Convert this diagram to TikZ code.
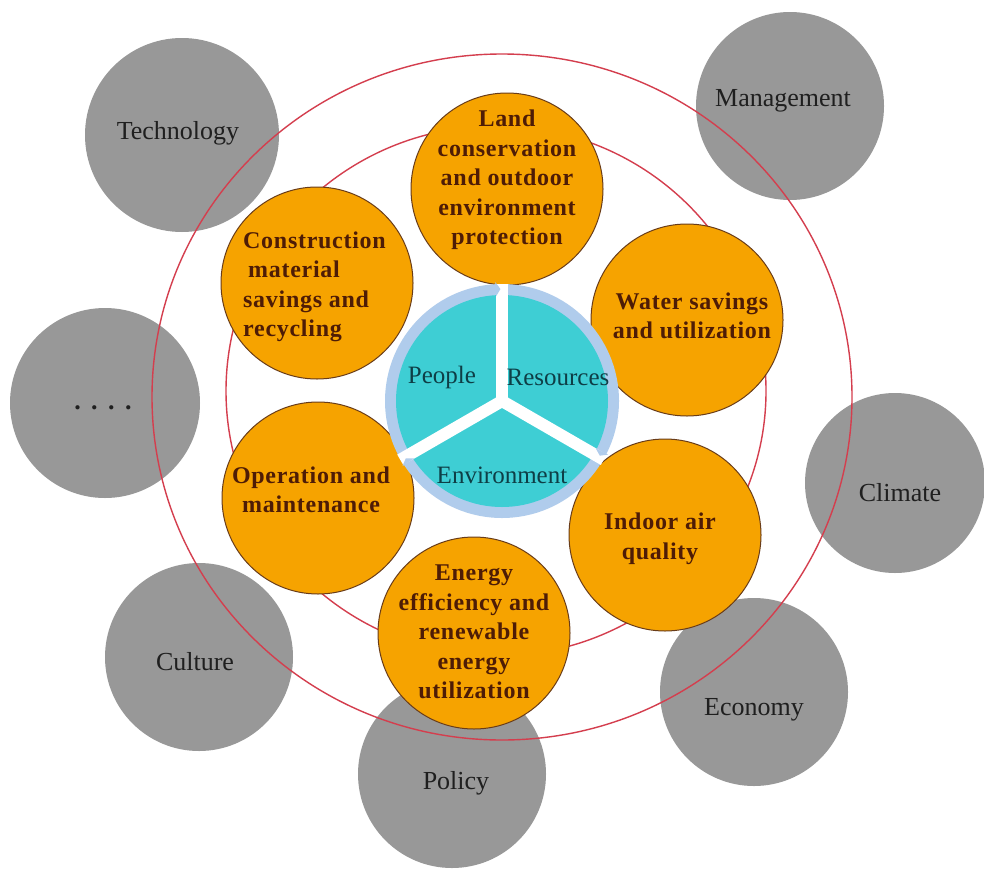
\documentclass[tikz,border=0pt]{standalone}
\usepackage{fontspec}
\setmainfont{Liberation Serif}
\newfontfamily\orfont[LetterSpace=3]{Liberation Serif}
\definecolor{greyc}{RGB}{152,152,152}
\definecolor{orangec}{RGB}{246,163,0}
\definecolor{orangeedge}{RGB}{105,60,25}
\definecolor{redc}{RGB}{212,62,78}
\definecolor{tealc}{RGB}{62,206,212}
\definecolor{ringc}{RGB}{176,204,236}
\definecolor{tealtext}{RGB}{14,62,70}
\definecolor{browntext}{RGB}{78,28,6}
\begin{document}
\begin{tikzpicture}[x=1pt,y=-1pt,
  greyball/.style={circle, fill=greyc, inner sep=0pt, minimum size=#1},
  greyball/.default=188pt,
  greytext/.style={inner sep=0pt, text=black!88, font=\fontsize{26}{30}\selectfont},
  orangeball/.style={circle, fill=orangec, draw=orangeedge, line width=1pt, inner sep=0pt, minimum size=192pt},
  orangetext/.style={inner sep=0pt, text=browntext, align=center, font=\orfont\bfseries\fontsize{24}{29.5}\selectfont},
  redring/.style={draw=redc, line width=1.4pt},
  centertext/.style={inner sep=0pt, text=tealtext, font=\fontsize{25}{30}\selectfont},
  gapline/.style={draw=white, line width=12pt},
  tipfill/.style={fill=ringc}
]
\useasboundingbox (0,0) rectangle (984,870);
\fill[white] (0,0) rectangle (984,870);

% grey outer factors
\node[greyball=194pt] (tech) at (182,135) {};
\node[greyball] (mgmt) at (790,106) {};
\node[greyball=190pt] (dots) at (105,403) {};
\node[greyball=180pt] (clim) at (895,483) {};
\node[greyball] (cult) at (199,657) {};
\node[greyball] (econ) at (754,692) {};
\node[greyball] (poli) at (452,774) {};
\node[greytext] (techT) at (178,133) {Technology};
\node[greytext] (mgmtT) at (783,101) {Management};
\node[greytext, font=\bfseries\fontsize{26}{30}\selectfont, anchor=base] (dotsT) at (103,409) {.\hspace{10.5pt}.\hspace{10.5pt}.\hspace{10.5pt}.};
\node[greytext] (climT) at (900,493) {Climate};
\node[greytext] (cultT) at (195,662) {Culture};
\node[greytext] (econT) at (754,710) {Economy};
\node[greytext] (poliT) at (456,783) {Policy};

% red rings
\draw[redring] (502,397) ellipse [x radius=350pt, y radius=343pt];
\draw[redring] (496,391) ellipse [x radius=270pt, y radius=265pt];

% orange indicators
\node[orangeball] (land) at (507,189) {};
\node[orangeball] (cons) at (317,283) {};
\node[orangeball] (water) at (687,320) {};
\node[orangeball] (oper) at (318,498) {};
\node[orangeball] (indoor) at (665,535) {};
\node[orangeball] (energy) at (474,633) {};
\node[orangetext] (landT) at (507,180) {Land\\conservation\\and outdoor\\environment\\protection};
\node[orangetext, align=left, anchor=west] (consT) at (243,287) {Construction\\\hspace{5pt}material\\savings and\\recycling};
\node[orangetext] (waterT) at (692,316) {Water savings\\and utilization};
\node[orangetext] (operT) at (311,490) {Operation and\\maintenance};
\node[orangetext] (indoorT) at (660,539) {Indoor air\\quality};
\node[orangetext] (energyT) at (474,632) {Energy\\efficiency and\\renewable\\energy\\utilization};

% central cycle
\coordinate (C) at (502,401);
\fill[ringc] (C) circle[radius=117pt];
\fill[tealc] (C) circle[radius=106pt];
\foreach \a in {90,210,330}{
  \draw[gapline] (C) -- ([shift={(\a:117.5pt)}]C);
}
\foreach \e in {90,210,330}{
  \fill[tipfill] ([shift={(\e+3.2:105pt)}]C) -- ([shift={(\e+3.2:119pt)}]C) -- ([shift={(\e+0.8:112pt)}]C) -- cycle;
}
\node[centertext] (peopleT) at (442,377) {People};
\node[centertext] (resT) at (558,377) {Resources};
\node[centertext] (envT) at (502,475) {Environment};
\end{tikzpicture}
\end{document}
